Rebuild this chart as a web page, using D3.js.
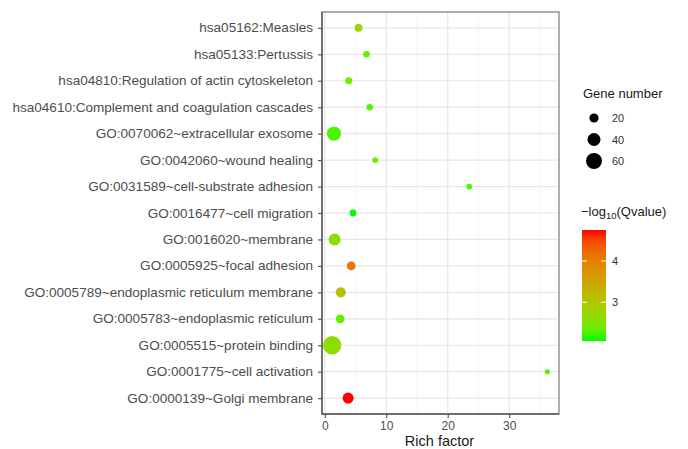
<!DOCTYPE html>
<html>
<head>
<meta charset="utf-8">
<script src="https://cdn.jsdelivr.net/npm/d3@7"></script>
<style>
  html, body { margin: 0; padding: 0; background: #fff; }
  svg { display: block; font-family: "Liberation Sans", Arial, sans-serif; }
</style>
</head>
<body>
<svg id="chart" width="688" height="449"></svg>
<script>
// Enriched terms, listed top to bottom
const terms = [
  "hsa05162:Measles",
  "hsa05133:Pertussis",
  "hsa04810:Regulation of actin cytoskeleton",
  "hsa04610:Complement and coagulation cascades",
  "GO:0070062~extracellular exosome",
  "GO:0042060~wound healing",
  "GO:0031589~cell-substrate adhesion",
  "GO:0016477~cell migration",
  "GO:0016020~membrane",
  "GO:0005925~focal adhesion",
  "GO:0005789~endoplasmic reticulum membrane",
  "GO:0005783~endoplasmic reticulum",
  "GO:0005515~protein binding",
  "GO:0001775~cell activation",
  "GO:0000139~Golgi membrane"
];
const richFactor = [5.5, 6.8, 3.9, 7.3, 1.5, 8.2, 23.5, 4.6, 1.6, 4.3, 2.6, 2.5, 1.2, 36.2, 3.8];
const geneNumber = [15, 10, 12, 10, 48, 8, 8, 11, 34, 18, 24, 18, 79, 6, 29];
const negLog10Q  = [2.8, 2.3, 2.4, 2.3, 2.2, 2.35, 2.15, 2.06, 2.6, 4.1, 3.1, 2.3, 2.65, 2.2, 4.75];

const xTicks = [0, 10, 20, 30];
const xMinorTicks = [5, 15, 25, 35];
const sizeBreaks = [20, 40, 60];
const colorTicks = [3, 4];

const svg = d3.select("#chart");
const panel = { left: 322, right: 559, top: 12, bottom: 414 };
const axisText = "#4d4d4d";

const x = d3.scaleLinear().domain([-0.45, 38.1]).range([panel.left, panel.right]);
const y = d3.scalePoint().domain(terms).range([panel.top, panel.bottom]).padding(0.6);
const r = d3.scaleSqrt().domain([0, 80]).range([0, 9.2]);
const qExtent = [2.06, 4.75];
const color = d3.scaleLinear().domain(qExtent).range(["#00ff00", "#ff0000"]).interpolate(d3.interpolateLab);

// panel background and grid
const g = svg.append("g");
g.append("rect").attr("x", panel.left).attr("y", panel.top)
  .attr("width", panel.right - panel.left).attr("height", panel.bottom - panel.top)
  .attr("fill", "#fff");

g.selectAll(".minor").data(xMinorTicks).join("line")
  .attr("x1", d => x(d)).attr("x2", d => x(d))
  .attr("y1", panel.top).attr("y2", panel.bottom)
  .attr("stroke", "#f2f2f2").attr("stroke-width", 0.8);
g.selectAll(".major").data(xTicks).join("line")
  .attr("x1", d => x(d)).attr("x2", d => x(d))
  .attr("y1", panel.top).attr("y2", panel.bottom)
  .attr("stroke", "#e6e6e6").attr("stroke-width", 1.2);
g.selectAll(".hgrid").data(terms).join("line")
  .attr("x1", panel.left).attr("x2", panel.right)
  .attr("y1", d => y(d)).attr("y2", d => y(d))
  .attr("stroke", "#e6e6e6").attr("stroke-width", 1.2);

// points
const rows = terms.map((t, i) => ({ term: t, rf: richFactor[i], n: geneNumber[i], q: negLog10Q[i] }));
g.selectAll(".pt").data(rows).join("circle")
  .attr("cx", d => x(d.rf)).attr("cy", d => y(d.term))
  .attr("r", d => r(d.n))
  .attr("fill", d => color(d.q));

// panel border
g.append("rect").attr("x", panel.left).attr("y", panel.top)
  .attr("width", panel.right - panel.left).attr("height", panel.bottom - panel.top)
  .attr("fill", "none").attr("stroke", "#8c8c8c").attr("stroke-width", 1.4);
g.append("path")
  .attr("d", `M${panel.left},${panel.top}V${panel.bottom}H${panel.right}`)
  .attr("fill", "none").attr("stroke", "#595959").attr("stroke-width", 1.4);

// axes
const xAxis = d3.axisBottom(x).tickValues(xTicks).tickSize(4).tickPadding(3);
const xg = svg.append("g").attr("transform", `translate(0,${panel.bottom})`).call(xAxis);
xg.select(".domain").remove();
xg.selectAll(".tick line").attr("stroke", "#595959").attr("stroke-width", 1.2);
xg.selectAll(".tick text").attr("fill", axisText).attr("font-size", 12).attr("font-family", "Liberation Sans, Arial, sans-serif");

const yAxis = d3.axisLeft(y).tickSize(4).tickPadding(5);
const yg = svg.append("g").attr("transform", `translate(${panel.left},0)`).call(yAxis);
yg.select(".domain").remove();
yg.selectAll(".tick line").attr("stroke", "#595959").attr("stroke-width", 1.2);
// category labels are set slightly wide, stretched about their right end
yg.selectAll(".tick text")
  .attr("fill", axisText).attr("font-size", 12.5).attr("font-family", "Liberation Sans, Arial, sans-serif")
  .attr("transform", "translate(-9,0) scale(1.085,1) translate(9,0)");

svg.append("text").attr("x", (panel.left + panel.right) / 2 - 1).attr("y", 446)
  .attr("text-anchor", "middle").attr("font-size", 14.5).attr("fill", "#1a1a1a")
  .text("Rich factor");

// size legend
const lg = svg.append("g");
lg.append("text").attr("x", 583).attr("y", 98).attr("font-size", 13).attr("fill", "#1a1a1a").text("Gene number");
const legendY = [118, 139.5, 161];
lg.selectAll(".sz").data(sizeBreaks).join("circle")
  .attr("cx", 594).attr("cy", (d, i) => legendY[i]).attr("r", d => r(d)).attr("fill", "#000");
lg.selectAll(".szt").data(sizeBreaks).join("text")
  .attr("x", 612).attr("y", (d, i) => legendY[i] + 4).attr("font-size", 11).attr("fill", "#333")
  .text(d => d);

// colour bar legend
const cb = { x: 582, w: 24, top: 230, bottom: 341 };
const cScale = d3.scaleLinear().domain(qExtent).range([cb.bottom, cb.top]);
const defs = svg.append("defs");
const grad = defs.append("linearGradient").attr("id", "qgrad")
  .attr("x1", 0).attr("y1", 1).attr("x2", 0).attr("y2", 0);
d3.range(0, 1.0001, 0.1).forEach(t => {
  grad.append("stop").attr("offset", t).attr("stop-color", color(qExtent[0] + t * (qExtent[1] - qExtent[0])));
});
const t1 = svg.append("text").attr("x", 581).attr("y", 216).attr("font-size", 13).attr("fill", "#1a1a1a");
t1.append("tspan").text("\u2212log");
t1.append("tspan").attr("font-size", 9.5).attr("dy", 3).text("10");
t1.append("tspan").attr("dy", -3).text("(Qvalue)");
svg.append("rect").attr("x", cb.x).attr("y", cb.top).attr("width", cb.w).attr("height", cb.bottom - cb.top)
  .attr("fill", "url(#qgrad)");
colorTicks.forEach(v => {
  svg.append("line").attr("x1", cb.x).attr("x2", cb.x + 5).attr("y1", cScale(v)).attr("y2", cScale(v))
    .attr("stroke", "#fff").attr("stroke-width", 1);
  svg.append("line").attr("x1", cb.x + cb.w - 5).attr("x2", cb.x + cb.w).attr("y1", cScale(v)).attr("y2", cScale(v))
    .attr("stroke", "#fff").attr("stroke-width", 1);
  svg.append("text").attr("x", cb.x + cb.w + 6).attr("y", cScale(v) + 4).attr("font-size", 11).attr("fill", "#333").text(v);
});
</script>
</body>
</html>
